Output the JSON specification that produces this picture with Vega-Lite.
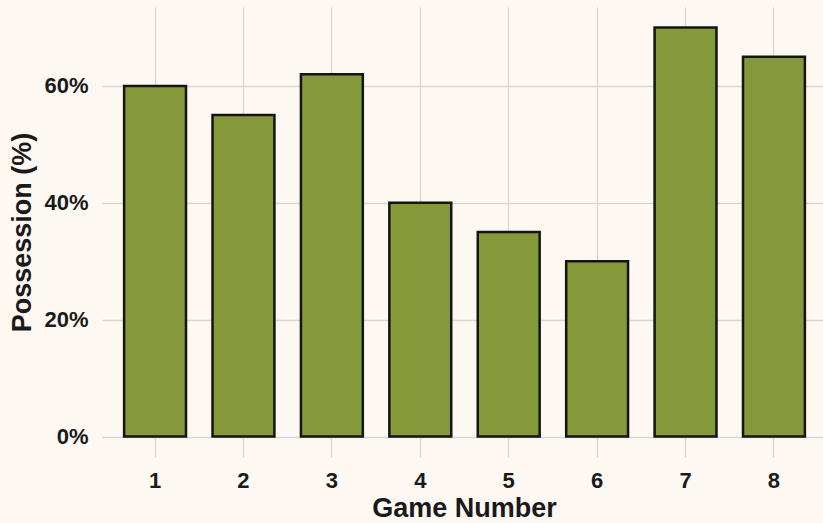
{
  "$schema": "https://vega.github.io/schema/vega-lite/v6.json",
  "width": 721,
  "height": 450,
  "autosize": "none",
  "padding": {"left": 102, "top": 7, "right": 0, "bottom": 66},
  "background": "#fdf9f2",
  "config": {
    "view": {"stroke": null, "fill": "#fdf9f2"},
    "font": "Liberation Sans"
  },
  "data": {
    "values": [
      {"game": "1", "possession": 60},
      {"game": "2", "possession": 55},
      {"game": "3", "possession": 62},
      {"game": "4", "possession": 40},
      {"game": "5", "possession": 35},
      {"game": "6", "possession": 30},
      {"game": "7", "possession": 70},
      {"game": "8", "possession": 65}
    ]
  },
  "mark": {"type": "bar", "fill": "#86993a", "stroke": "#141414", "strokeWidth": 2.5},
  "encoding": {
    "x": {
      "field": "game",
      "type": "ordinal",
      "title": "Game Number",
      "scale": {"range": [0, 725], "paddingInner": 0.3, "paddingOuter": 0.25},
      "axis": {
        "labelAngle": 0,
        "labelFont": "Liberation Sans",
        "labelFontWeight": "bold",
        "labelFontSize": 22,
        "labelColor": "#1a1a1a",
        "labelPadding": 13,
        "ticks": false,
        "domain": false,
        "grid": true,
        "gridColor": "#d9d6d1",
        "gridWidth": 1.3,
        "titleFontSize": 27,
        "titleFontWeight": "bold",
        "titleColor": "#1a1a1a",
        "titlePadding": 4,
        "titleX": 362
      }
    },
    "y": {
      "field": "possession",
      "type": "quantitative",
      "title": "Possession (%)",
      "scale": {"domain": [-3.5, 73.5], "nice": false, "zero": false},
      "axis": {
        "values": [0, 20, 40, 60],
        "labelExpr": "datum.value + '%'",
        "labelFont": "Liberation Sans",
        "labelFontWeight": "bold",
        "labelFontSize": 22,
        "labelColor": "#1a1a1a",
        "labelPadding": 14,
        "ticks": false,
        "domain": false,
        "grid": true,
        "gridColor": "#d9d6d1",
        "gridWidth": 1.3,
        "titleFontSize": 27,
        "titleFontWeight": "bold",
        "titleColor": "#1a1a1a",
        "titlePadding": 7
      }
    },
    "y2": {"datum": 0}
  }
}
